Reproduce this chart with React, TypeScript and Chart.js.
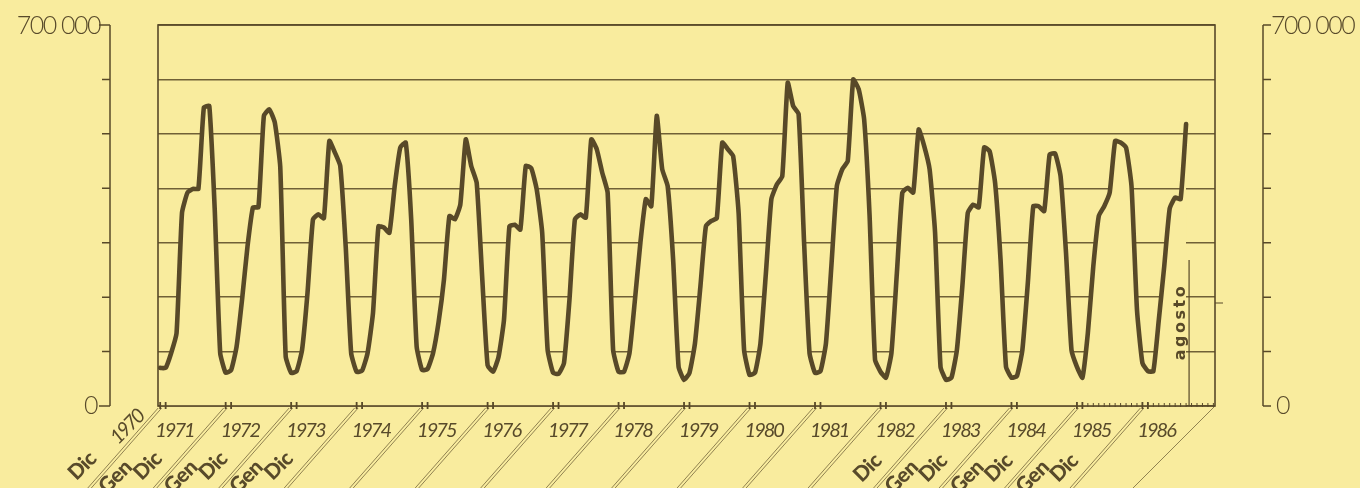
import React, { useEffect, useRef } from "react";
import { Chart, registerables } from "chart.js";

Chart.register(...registerables);

const BG = "rgb(249, 236, 158)";
const INK = "rgb(88, 73, 40)";
const GRID = "rgb(112, 96, 54)";
const TEXT = "rgb(88, 74, 42)";
const FONT = 'Lato, "DejaVu Sans", sans-serif';

// Monthly values, Dec 1970 .. Aug 1986
const dec1970 = [70000];
const year1971 = [70000, 97000, 134000, 355000, 392000, 399000, 399000, 548000, 551000, 360000, 97000, 61000];
const year1972 = [66000, 109000, 195000, 293000, 365000, 365000, 533000, 545000, 521000, 440000, 91000, 61000];
const year1973 = [64000, 103000, 208000, 343000, 352000, 345000, 487000, 466000, 441000, 293000, 97000, 63000];
const year1974 = [65000, 97000, 171000, 330000, 328000, 318000, 406000, 475000, 484000, 343000, 109000, 66000];
const year1975 = [68000, 97000, 153000, 232000, 349000, 343000, 370000, 490000, 441000, 410000, 238000, 75000];
const year1976 = [63000, 90000, 158000, 330000, 333000, 324000, 441000, 437000, 398000, 319000, 103000, 61000];
const year1977 = [59000, 79000, 195000, 343000, 352000, 346000, 490000, 472000, 429000, 392000, 103000, 63000];
const year1978 = [63000, 97000, 195000, 300000, 380000, 367000, 533000, 435000, 404000, 269000, 72000, 48000];
const year1979 = [61000, 115000, 220000, 330000, 340000, 345000, 484000, 472000, 459000, 355000, 103000, 57000];
const year1980 = [61000, 115000, 244000, 380000, 407000, 422000, 594000, 551000, 536000, 300000, 97000, 61000];
const year1981 = [64000, 115000, 257000, 404000, 435000, 450000, 600000, 582000, 527000, 350000, 85000, 63000];
const year1982 = [52000, 97000, 244000, 392000, 401000, 392000, 508000, 478000, 435000, 319000, 72000, 48000];
const year1983 = [52000, 103000, 220000, 355000, 370000, 365000, 475000, 468000, 410000, 269000, 72000, 52000];
const year1984 = [55000, 103000, 226000, 367000, 367000, 358000, 462000, 464000, 422000, 281000, 103000, 72000];
const year1985 = [52000, 134000, 257000, 349000, 367000, 392000, 487000, 484000, 475000, 404000, 177000, 79000];
const year1986 = [64000, 64000, 158000, 257000, 363000, 383000, 380000, 518000];

const yearLabels = ["1971", "1972", "1973", "1974", "1975", "1976", "1977", "1978", "1979", "1980", "1981", "1982", "1983", "1984", "1985", "1986"];
const firstYearLabel = "1970";
const decLabel = "Dic";
const janLabel = "Gen";
const lastMonthLabel = "agosto";
const yTickValues = [0, 100000, 200000, 300000, 400000, 500000, 600000, 700000];
const yMinLabel = "0";
const yMaxLabel = "700 000";
const leftFanYears = [0, 1, 2, 3];
const rightFanYears = [11, 12, 13, 14];

const series = [
  ...dec1970, ...year1971, ...year1972, ...year1973, ...year1974, ...year1975, ...year1976,
  ...year1977, ...year1978, ...year1979, ...year1980, ...year1981, ...year1982, ...year1983,
  ...year1984, ...year1985, ...year1986,
];

function rotText(ctx: CanvasRenderingContext2D, text: string, cx: number, cy: number, ang: number) {
  ctx.save();
  ctx.translate(cx, cy);
  ctx.rotate(ang);
  ctx.textAlign = "center";
  ctx.textBaseline = "middle";
  ctx.fillText(text, 0, 0);
  ctx.restore();
}

const decor = {
  id: "decor",
  afterDatasetsDraw(chart: any) {
    const { ctx, chartArea: a, scales } = chart;
    const xs = scales.x;
    const ys = scales.y;
    const H = chart.height;
    ctx.save();
    ctx.strokeStyle = INK;
    ctx.fillStyle = TEXT;
    ctx.lineCap = "butt";

    // plot frame
    ctx.lineWidth = 1.6;
    ctx.strokeRect(a.left, a.top, a.right - a.left, a.bottom - a.top);

    // outer left and right axes
    const lx = a.left - 48;
    const rx = a.right + 48;
    const yTop = ys.getPixelForValue(yTickValues[yTickValues.length - 1]);
    const yBot = ys.getPixelForValue(yTickValues[0]);
    ctx.lineWidth = 1.5;
    ctx.beginPath();
    ctx.moveTo(lx, yTop);
    ctx.lineTo(lx, yBot);
    ctx.moveTo(rx, yTop);
    ctx.lineTo(rx, yBot);
    yTickValues.forEach((v, i) => {
      const py = ys.getPixelForValue(v);
      const end = i === yTickValues.length - 1 || i === 0;
      ctx.moveTo(lx - (end ? 11 : 8), py);
      ctx.lineTo(lx, py);
      ctx.moveTo(rx, py);
      ctx.lineTo(rx + 8, py);
    });
    ctx.stroke();

    ctx.font = `300 25px ${FONT}`;
    (ctx as any).letterSpacing = "-1.5px";
    ctx.textBaseline = "middle";
    ctx.textAlign = "right";
    ctx.fillText(yMaxLabel, lx - 10, yTop + 1);
    ctx.fillText(yMinLabel, lx - 13, yBot);
    ctx.textAlign = "left";
    ctx.fillText(yMaxLabel, rx + 8, yTop + 1);
    ctx.fillText(yMinLabel, rx + 13, yBot);

    // year ticks (Dec + Jan pairs)
    ctx.lineWidth = 1.8;
    ctx.beginPath();
    yearLabels.forEach((_, k) => {
      for (const m of [12 * k, 12 * k + 1]) {
        const px = xs.getPixelForValue(m);
        ctx.moveTo(px, a.bottom - 4);
        ctx.lineTo(px, a.bottom + 3);
      }
    });
    ctx.stroke();

    // monthly ticks in the last stretch
    ctx.lineWidth = 1;
    ctx.beginPath();
    for (let m = 12 * 14 + 2; m < 194; m++) {
      const px = xs.getPixelForValue(m);
      ctx.moveTo(px, a.bottom - 3);
      ctx.lineTo(px, a.bottom + 1);
    }
    ctx.stroke();

    // diagonal double lines from each year mark
    const slope = 0.88;
    ctx.lineWidth = 0.9;
    ctx.strokeStyle = "rgba(92, 77, 42, 0.75)";
    ctx.beginPath();
    yearLabels.forEach((_, k) => {
      const px = xs.getPixelForValue(12 * k);
      for (const off of [-2, 1.5]) {
        const x0 = px + off;
        const y0 = a.bottom + 2;
        ctx.moveTo(x0, y0);
        ctx.lineTo(x0 - (H - y0) * slope, H);
      }
    });
    ctx.moveTo(a.right, a.bottom);
    ctx.lineTo(a.right - (H - a.bottom) * 1.0, H);
    ctx.stroke();

    // year labels
    ctx.fillStyle = TEXT;
    ctx.font = `italic 400 20px ${FONT}`;
    (ctx as any).letterSpacing = "-2px";
    ctx.textAlign = "left";
    ctx.textBaseline = "alphabetic";
    yearLabels.forEach((lab, k) => {
      const px = xs.getPixelForValue(12 * k);
      ctx.fillText(lab, px - 5, a.bottom + 31);
    });

    // "1970" rotated next to first Dic
    const x0 = xs.getPixelForValue(0);
    rotText(ctx, firstYearLabel, x0 - 33, a.bottom + 21, -Math.PI / 4);

    // Dic / Gen fans
    ctx.font = `900 21px ${FONT}`;
    (ctx as any).letterSpacing = "-0.5px";
    leftFanYears.forEach((k, i) => {
      const px = xs.getPixelForValue(12 * k);
      rotText(ctx, decLabel, px - 78, a.bottom + 60, -Math.PI / 4);
      if (i < leftFanYears.length - 1) rotText(ctx, janLabel, px - 45, a.bottom + 71, -Math.PI / 4);
    });
    rightFanYears.forEach((k, i) => {
      const px = xs.getPixelForValue(12 * k);
      rotText(ctx, decLabel, px - 13, a.bottom + 62, -Math.PI / 4);
      if (i < rightFanYears.length - 1) rotText(ctx, janLabel, px + 21, a.bottom + 71, -Math.PI / 4);
    });

    // "agosto" marker
    const xa = xs.getPixelForValue(series.length - 1);
    ctx.strokeStyle = INK;
    ctx.lineWidth = 1.2;
    ctx.beginPath();
    ctx.moveTo(xa + 3, a.top + 235);
    ctx.lineTo(xa + 3, a.bottom);
    ctx.moveTo(a.right, a.top + 278);
    ctx.lineTo(a.right + 8, a.top + 278);
    ctx.stroke();
    ctx.fillStyle = INK;
    ctx.font = `bold 16px "DejaVu Sans", sans-serif`;
    (ctx as any).letterSpacing = "2.5px";
    rotText(ctx, lastMonthLabel, xa - 5, a.top + 297, -Math.PI / 2);

    ctx.restore();
  },
};

export default function App() {
  const ref = useRef<HTMLCanvasElement>(null);
  useEffect(() => {
    const canvas = ref.current;
    if (!canvas) return;
    const points = series.map((v, i) => ({ x: i, y: v }));
    const chart = new Chart(canvas, {
      type: "line",
      data: {
        datasets: [
          {
            data: points,
            borderColor: INK,
            borderWidth: 4.6,
            backgroundColor: BG,
            fill: "origin",
            pointRadius: 0,
            tension: 0.15,
            borderJoinStyle: "round",
            borderCapStyle: "round",
          } as any,
        ],
      },
      options: {
        animation: false,
        responsive: true,
        maintainAspectRatio: false,
        layout: { padding: { left: 158, right: 145, top: 25, bottom: 82 } },
        plugins: { legend: { display: false }, tooltip: { enabled: false } },
        scales: {
          x: { type: "linear", min: -0.4, max: 193.3, display: false },
          y: {
            min: 0,
            max: 700000,
            ticks: { display: false, stepSize: 100000 },
            grid: { color: GRID, lineWidth: 1.4, drawTicks: false },
            border: { display: false },
          },
        },
      } as any,
      plugins: [decor],
    });
    return () => chart.destroy();
  }, []);
  return (
    <div style={{ position: "fixed", left: 0, top: 0, width: 1360, height: 488, background: BG }}>
      <canvas ref={ref} />
    </div>
  );
}
